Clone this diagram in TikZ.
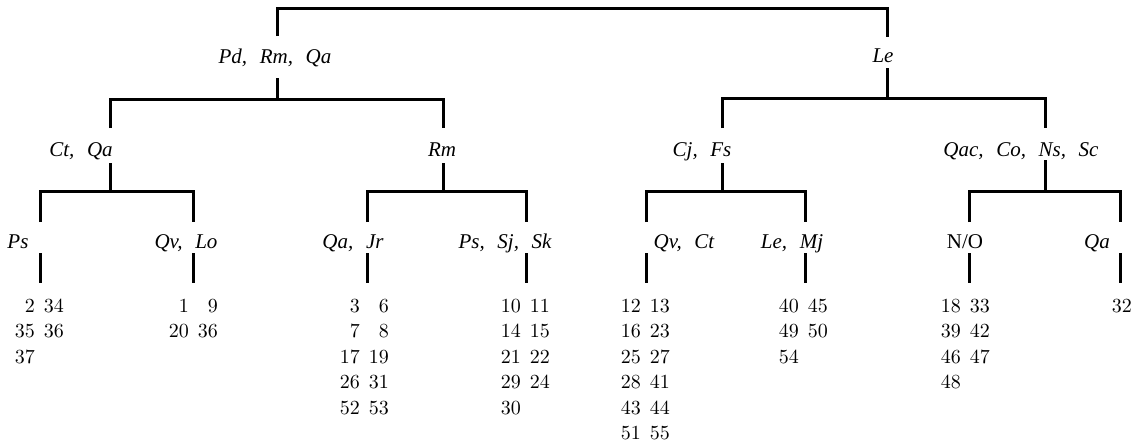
\documentclass[tikz,border=0pt]{standalone}
\usepackage{fontspec}
\newfontfamily\labfont{Liberation Serif}
\newfontfamily\numfont{lmroman10-regular}[Extension=.otf]
\begin{document}
\begin{tikzpicture}[x=1pt,y=-1pt,
  edge/.style={line width=3pt, line cap=butt, line join=miter},
  lab/.style={inner sep=0pt, anchor=base, font=\labfont\fontsize{21}{25}\selectfont\itshape},
  labup/.style={inner sep=0pt, anchor=base, font=\labfont\fontsize{21}{25}\selectfont},
  nums/.style={inner sep=0pt, anchor=base east, font=\numfont\fontsize{20}{25.5}\selectfont}]
\useasboundingbox (0,0) rectangle (1144,447);
\newcommand{\cs}{,\hspace{0.6em}}
% ---------- labels ----------
\node[lab] (A)  at (275,63)  {Pd\cs Rm\cs Qa};
\node[lab] (B)  at (883,62)  {Le};
\node[lab] (AA) at (81,156)  {Ct\cs Qa};
\node[lab] (AB) at (442,156) {Rm};
\node[lab] (BA) at (702,156) {Cj\cs Fs};
\node[lab] (BB) at (1021,156) {Qac\cs Co\cs Ns\cs Sc};
\node[lab] (AAA) at (18,248)  {Ps};
\node[lab] (AAB) at (186,248) {Qv\cs Lo};
\node[lab] (ABA) at (353,248) {Qa\cs Jr};
\node[lab] (ABB) at (505,248) {Ps\cs Sj\cs Sk};
\node[lab] (BAA) at (684,248) {Qv\cs Ct};
\node[lab] (BAB) at (792,248) {Le\cs Mj};
\node[labup] (BBA) at (965,248) {N/O};
\node[lab] (BBB) at (1097,248) {Qa};
% ---------- number groups ----------
\node[nums] (AAAn) at (64,312) {\begin{tabular}[t]{@{}r@{\hspace{9pt}}r@{}}2&34\\35&36\\37&\end{tabular}};
\node[nums] (AABn) at (218,312) {\begin{tabular}[t]{@{}r@{\hspace{9pt}}r@{}}1&9\\20&36\end{tabular}};
\node[nums] (ABAn) at (389,312) {\begin{tabular}[t]{@{}r@{\hspace{9pt}}r@{}}3&6\\7&8\\17&19\\26&31\\52&53\end{tabular}};
\node[nums] (ABBn) at (550,312) {\begin{tabular}[t]{@{}r@{\hspace{9pt}}r@{}}10&11\\14&15\\21&22\\29&24\\30&\end{tabular}};
\node[nums] (BAAn) at (670,312) {\begin{tabular}[t]{@{}r@{\hspace{9pt}}r@{}}12&13\\16&23\\25&27\\28&41\\43&44\\51&55\end{tabular}};
\node[nums] (BABn) at (828,312) {\begin{tabular}[t]{@{}r@{\hspace{9pt}}r@{}}40&45\\49&50\\54&\end{tabular}};
\node[nums] (BBAn) at (990,312) {\begin{tabular}[t]{@{}r@{\hspace{9pt}}r@{}}18&33\\39&42\\46&47\\48&\end{tabular}};
\node[nums] (BBBn) at (1132,312) {32};
% ---------- connector end points ----------
\coordinate (Atop) at (277,36);  \coordinate (Btop) at (887,37);
\coordinate (Abot) at (277,78);  \coordinate (Bbot) at (887,68);
\coordinate (AAtop) at (110,128); \coordinate (ABtop) at (443,128);
\coordinate (BAtop) at (722,128); \coordinate (BBtop) at (1045,128);
\coordinate (AAbot) at (110,163); \coordinate (ABbot) at (443,163);
\coordinate (BAbot) at (722,163); \coordinate (BBbot) at (1045,160);
\foreach \n/\x in {AAA/40,AAB/193,ABA/367,ABB/526,BAA/646,BAB/805,BBA/969,BBB/1120}{
  \coordinate (\n top) at (\x,222);
  \coordinate (\n s1) at (\x,253);
  \coordinate (\n s2) at (\x,283);
}
\coordinate (y0) at (0,8);
\coordinate (yA) at (0,99);  \coordinate (yB) at (0,98);
\coordinate (y3) at (0,191);
% ---------- connectors ----------
\draw[edge] (Atop) -- (Atop |- y0) -- (Btop |- y0) -- (Btop);
\draw[edge] (Abot) -- (Abot |- yA);
\draw[edge] (AAtop) -- (AAtop |- yA) -- (ABtop |- yA) -- (ABtop);
\draw[edge] (Bbot) -- (Bbot |- yB);
\draw[edge] (BAtop) -- (BAtop |- yB) -- (BBtop |- yB) -- (BBtop);
\draw[edge] (AAbot) -- (AAbot |- y3);
\draw[edge] (AAAtop) -- (AAAtop |- y3) -- (AABtop |- y3) -- (AABtop);
\draw[edge] (ABbot) -- (ABbot |- y3);
\draw[edge] (ABAtop) -- (ABAtop |- y3) -- (ABBtop |- y3) -- (ABBtop);
\draw[edge] (BAbot) -- (BAbot |- y3);
\draw[edge] (BAAtop) -- (BAAtop |- y3) -- (BABtop |- y3) -- (BABtop);
\draw[edge] (BBbot) -- (BBbot |- y3);
\draw[edge] (BBAtop) -- (BBAtop |- y3) -- (BBBtop |- y3) -- (BBBtop);
\foreach \n in {AAA,AAB,ABA,ABB,BAA,BAB,BBA,BBB}{
  \draw[edge] (\n s1) -- (\n s2);
}
\end{tikzpicture}
\end{document}
